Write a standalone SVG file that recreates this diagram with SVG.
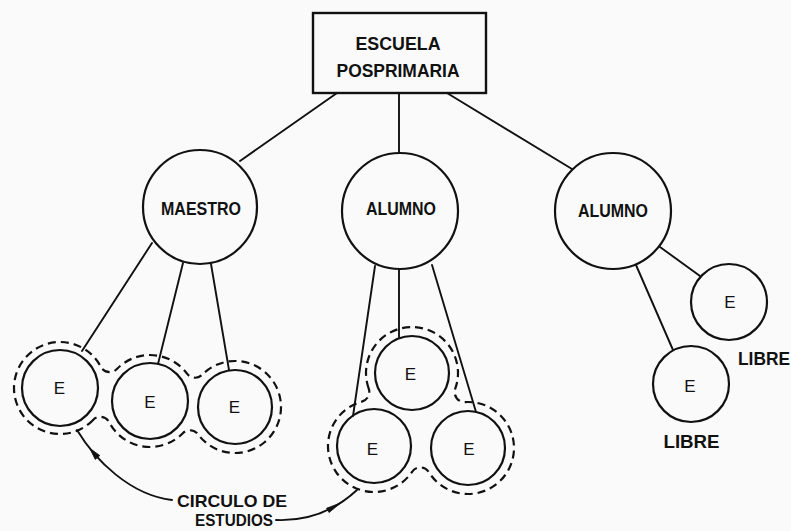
<svg xmlns="http://www.w3.org/2000/svg" width="791" height="531" viewBox="0 0 791 531">
<style>
.bg{fill:#fafafa}
.node{fill:none;stroke:#111;stroke-width:2.2}
.box{fill:#fafafa;stroke:#111;stroke-width:2.4}
.ln{fill:none;stroke:#111;stroke-width:1.9;stroke-linecap:round}
.dash{fill:none;stroke:#111;stroke-width:2.2;stroke-dasharray:8 5}
.lbl{font-family:"Liberation Sans",Arial,sans-serif;font-weight:bold;font-size:18px;fill:#111;text-anchor:middle}
.sm{font-size:17px}
.e{font-family:"Liberation Sans",Arial,sans-serif;font-size:17px;fill:#111;text-anchor:middle}
.head{fill:#111;stroke:#111;stroke-width:0.8}
</style>
<rect class="bg" x="0" y="0" width="791" height="531"/>

<g id="connectors">
  <line class="ln" x1="337" y1="93" x2="240" y2="161"/>
  <line class="ln" x1="399" y1="93" x2="399" y2="153"/>
  <line class="ln" x1="447" y1="93" x2="572" y2="169"/>
  <line class="ln" x1="152" y1="243" x2="82" y2="351"/>
  <line class="ln" x1="183" y1="263" x2="158" y2="364"/>
  <line class="ln" x1="211" y1="264" x2="229" y2="370"/>
  <line class="ln" x1="375" y1="266" x2="353" y2="416"/>
  <line class="ln" x1="399" y1="269" x2="399" y2="337"/>
  <line class="ln" x1="432" y1="265" x2="476" y2="412"/>
  <line class="ln" x1="660" y1="247" x2="700" y2="276"/>
  <line class="ln" x1="636" y1="265" x2="673" y2="350"/>
  <path class="ln" d="M77,430 C95,460 130,495 172,500"/>
  <polygon class="head" points="89.8,448.3 99.8,455.6 95.2,459.4"/>
  <path class="ln" d="M276,520 C300,521 330,515 357,490"/>
  <polygon class="head" points="340.5,503.1 329.05,512.57 326.55,508.23"/>
</g>

<g id="circulo-maestro">
  <path class="dash" d="M93.13,419.91 A46 46 0 1 1 100.80,366.77 A10 10 0 0 0 116.87,369.09 A46 46 0 0 1 187.01,373.69 A10 10 0 0 0 202.19,374.76 A46 46 0 1 1 197.99,434.31 A10 10 0 0 0 182.81,433.24 A46 46 0 0 1 109.20,422.23 A10 10 0 0 0 93.13,419.91 Z"/>
</g>
<g id="circulo-alumno">
  <path class="dash" d="M368.72,388.57 A46 46 0 1 1 455.24,388.69 A10 10 0 0 0 465.24,402.08 A46 46 0 1 1 428.86,472.17 A10 10 0 0 0 412.07,471.81 A46 46 0 1 1 361.93,401.61 A10 10 0 0 0 368.72,388.57 Z"/>
</g>

<g id="escuela">
  <rect class="box" x="313" y="13" width="173" height="80"/>
  <text class="lbl" x="398" y="50" textLength="85" lengthAdjust="spacingAndGlyphs">ESCUELA</text>
  <text class="lbl" x="398" y="77" textLength="123" lengthAdjust="spacingAndGlyphs">POSPRIMARIA</text>
</g>

<g id="maestro">
  <circle class="node" cx="200" cy="207" r="57"/>
  <text class="lbl" x="201" y="214.5" textLength="80" lengthAdjust="spacingAndGlyphs">MAESTRO</text>
</g>
<g id="alumno1">
  <circle class="node" cx="400" cy="211" r="58"/>
  <text class="lbl" x="401" y="215" textLength="70" lengthAdjust="spacingAndGlyphs">ALUMNO</text>
</g>
<g id="alumno2">
  <circle class="node" cx="613" cy="211" r="58"/>
  <text class="lbl" x="613" y="217" textLength="70" lengthAdjust="spacingAndGlyphs">ALUMNO</text>
</g>

<g id="e1"><circle class="node" cx="60" cy="388" r="38"/><text class="e" x="59.5" y="394">E</text></g>
<g id="e2"><circle class="node" cx="150" cy="401" r="38"/><text class="e" x="150" y="408">E</text></g>
<g id="e3"><circle class="node" cx="235" cy="407" r="37"/><text class="e" x="234.5" y="413">E</text></g>

<g id="e4"><circle class="node" cx="412" cy="373" r="37"/><text class="e" x="410.5" y="380">E</text></g>
<g id="e5"><circle class="node" cx="374" cy="446" r="37"/><text class="e" x="372.5" y="455">E</text></g>
<g id="e6"><circle class="node" cx="468" cy="448" r="37"/><text class="e" x="469" y="455">E</text></g>

<g id="e7"><circle class="node" cx="729" cy="302" r="38"/><text class="e" x="730" y="308">E</text></g>
<g id="e8"><circle class="node" cx="691" cy="384" r="38"/><text class="e" x="690" y="392">E</text></g>

<g id="labels">
  <text class="lbl" x="764" y="365" textLength="52" lengthAdjust="spacingAndGlyphs">LIBRE</text>
  <text class="lbl" x="691.5" y="448" textLength="56" lengthAdjust="spacingAndGlyphs">LIBRE</text>
  <text class="lbl sm" x="232" y="507" textLength="110" lengthAdjust="spacingAndGlyphs">CIRCULO  DE</text>
  <text class="lbl sm" x="234" y="526" textLength="78" lengthAdjust="spacingAndGlyphs">ESTUDIOS</text>
</g>
</svg>
